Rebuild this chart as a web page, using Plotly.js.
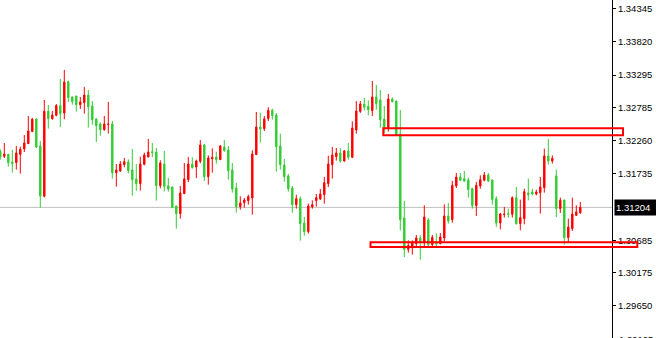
<!DOCTYPE html>
<html>
<head>
<meta charset="utf-8">
<script src="https://cdn.plot.ly/plotly-3.0.1.min.js"></script>
<style>
  html, body { margin: 0; padding: 0; background: #ffffff; }
  #chart { width: 656px; height: 338px; }
</style>
</head>
<body>
<div id="chart"></div>
<script>
// GBP/USD style bar series, oldest to newest
const openP = [
  1.32091, 1.32012, 1.32043, 1.31922, 1.31912, 1.32043, 1.32128, 1.32212, 1.32402, 1.32602,
  1.32175, 1.31379, 1.32723, 1.32607, 1.32660, 1.32813, 1.32697, 1.33192, 1.32950, 1.32965,
  1.32828, 1.32860, 1.32981, 1.32807, 1.32602, 1.32523, 1.32433, 1.32515, 1.32523, 1.31753,
  1.31780, 1.31880, 1.31922, 1.31796, 1.31653, 1.31579, 1.31885, 1.32001, 1.32085, 1.32080,
  1.31548, 1.31890, 1.31543, 1.31527, 1.31226, 1.31105, 1.31421, 1.31643, 1.31885, 1.31843,
  1.31933, 1.32191, 1.31690, 1.31975, 1.32001, 1.31959, 1.32159, 1.32112, 1.31796, 1.31511,
  1.31216, 1.31279, 1.31311, 1.31353, 1.32038, 1.32475, 1.32449, 1.32607, 1.32739, 1.32665,
  1.32175, 1.31875, 1.31701, 1.31511, 1.31247, 1.31342, 1.30958, 1.30821, 1.31211, 1.31311,
  1.31337, 1.31405, 1.31579, 1.31880, 1.32006, 1.32064, 1.31938, 1.32096, 1.31996, 1.32428,
  1.32723, 1.32839, 1.32802, 1.32734, 1.32950, 1.32902, 1.32602, 1.32449, 1.32918, 1.32886,
  1.32365, 1.31037, 1.30541, 1.30568, 1.30631, 1.30720, 1.30645, 1.31005, 1.30615, 1.30645,
  1.30631, 1.30720, 1.31068, 1.31010, 1.31543, 1.31685, 1.31659, 1.31637, 1.31500, 1.31232,
  1.31543, 1.31632, 1.31716, 1.31637, 1.31342, 1.30958, 1.31092, 1.31105, 1.31095, 1.31358,
  1.30947, 1.31026, 1.31432, 1.31448, 1.31416, 1.31437, 1.31516, 1.32017, 1.31938, 1.31701,
  1.31184, 1.31321, 1.30726, 1.30868, 1.31079, 1.31121
];
const highP = [
  1.32122, 1.32222, 1.32050, 1.32112, 1.32175, 1.32164, 1.32349, 1.32649, 1.32618, 1.32607,
  1.32254, 1.32902, 1.32823, 1.32728, 1.32839, 1.33234, 1.33377, 1.33208, 1.32955, 1.32970,
  1.32950, 1.33108, 1.33060, 1.32886, 1.32612, 1.32549, 1.32649, 1.32871, 1.32570, 1.31890,
  1.31938, 1.31985, 1.31964, 1.32128, 1.31890, 1.32006, 1.32070, 1.32286, 1.32222, 1.32143,
  1.31948, 1.32096, 1.31669, 1.31530, 1.31230, 1.31543, 1.31906, 1.32001, 1.31996, 1.31959,
  1.32270, 1.32207, 1.32027, 1.32138, 1.32085, 1.32191, 1.32270, 1.32175, 1.31906, 1.31590,
  1.31379, 1.31353, 1.31405, 1.32107, 1.32712, 1.32702, 1.32649, 1.32788, 1.32765, 1.32697,
  1.32370, 1.31969, 1.31732, 1.31543, 1.31405, 1.31374, 1.31052, 1.31263, 1.31316, 1.31416,
  1.31495, 1.31685, 1.32022, 1.32159, 1.32143, 1.32143, 1.32112, 1.32222, 1.32565, 1.32886,
  1.32886, 1.32934, 1.32897, 1.33203, 1.33139, 1.33060, 1.32807, 1.32997, 1.32944, 1.32891,
  1.32744, 1.31305, 1.30684, 1.30684, 1.30768, 1.30763, 1.31237, 1.31037, 1.30768, 1.30795,
  1.30800, 1.31253, 1.31274, 1.31622, 1.31748, 1.31748, 1.31780, 1.31674, 1.31516, 1.31606,
  1.31711, 1.31764, 1.31748, 1.31640, 1.31379, 1.31116, 1.31211, 1.31184, 1.31379, 1.31527,
  1.31327, 1.31500, 1.31659, 1.31500, 1.31485, 1.31685, 1.32133, 1.32286, 1.32027, 1.31801,
  1.31358, 1.31325, 1.31026, 1.31358, 1.31237, 1.31290
];
const lowP = [
  1.31959, 1.31985, 1.31848, 1.31753, 1.31801, 1.31738, 1.32080, 1.32207, 1.32396, 1.32143,
  1.31200, 1.31363, 1.32449, 1.32591, 1.32644, 1.32475, 1.32597, 1.32871, 1.32828, 1.32718,
  1.32760, 1.32686, 1.32465, 1.32512, 1.32238, 1.32338, 1.32417, 1.32370, 1.31659, 1.31532,
  1.31764, 1.31838, 1.31743, 1.31390, 1.31469, 1.31469, 1.31869, 1.31996, 1.32001, 1.31311,
  1.31506, 1.31458, 1.31453, 1.31195, 1.30868, 1.31026, 1.31416, 1.31606, 1.31817, 1.31669,
  1.31901, 1.31622, 1.31564, 1.31753, 1.31896, 1.31955, 1.32085, 1.31643, 1.31437, 1.31121,
  1.31168, 1.31200, 1.31247, 1.31089, 1.32033, 1.32228, 1.32412, 1.32570, 1.32591, 1.31769,
  1.31801, 1.31611, 1.31453, 1.31121, 1.31184, 1.30678, 1.30757, 1.30789, 1.31184, 1.31216,
  1.31321, 1.31263, 1.31527, 1.31659, 1.31943, 1.31912, 1.31927, 1.31959, 1.31985, 1.32370,
  1.32697, 1.32734, 1.32660, 1.32649, 1.32749, 1.32465, 1.32380, 1.32402, 1.32865, 1.32349,
  1.30840, 1.30420, 1.30489, 1.30457, 1.30594, 1.30378, 1.30589, 1.30589, 1.30589, 1.30589,
  1.30620, 1.30668, 1.30947, 1.30963, 1.31511, 1.31622, 1.31606, 1.31358, 1.31184, 1.31068,
  1.31500, 1.31616, 1.31606, 1.31247, 1.30894, 1.30857, 1.31042, 1.31042, 1.31042, 1.30931,
  1.30842, 1.30937, 1.31316, 1.31395, 1.31395, 1.31105, 1.31437, 1.31880, 1.31896, 1.31052,
  1.31116, 1.30615, 1.30645, 1.30831, 1.31068, 1.31100
];
const closeP = [
  1.32001, 1.32049, 1.31912, 1.31896, 1.32064, 1.32122, 1.32222, 1.32412, 1.32597, 1.32159,
  1.31384, 1.32723, 1.32607, 1.32665, 1.32813, 1.32686, 1.33187, 1.32939, 1.32876, 1.32828,
  1.32871, 1.32981, 1.32797, 1.32591, 1.32496, 1.32433, 1.32523, 1.32520, 1.31753, 1.31796,
  1.31890, 1.31927, 1.31785, 1.31643, 1.31579, 1.31890, 1.32033, 1.32080, 1.32070, 1.31548,
  1.31906, 1.31537, 1.31495, 1.31200, 1.31105, 1.31432, 1.31653, 1.31890, 1.31832, 1.31938,
  1.32191, 1.31690, 1.31985, 1.31996, 1.31959, 1.32175, 1.32101, 1.31785, 1.31495, 1.31216,
  1.31274, 1.31321, 1.31374, 1.32049, 1.32475, 1.32444, 1.32602, 1.32739, 1.32655, 1.32164,
  1.31880, 1.31690, 1.31500, 1.31247, 1.31342, 1.30947, 1.30821, 1.31226, 1.31247, 1.31358,
  1.31416, 1.31595, 1.31890, 1.32033, 1.32064, 1.31938, 1.32096, 1.31996, 1.32460, 1.32728,
  1.32839, 1.32788, 1.32749, 1.32950, 1.32844, 1.32591, 1.32470, 1.32918, 1.32876, 1.32354,
  1.31010, 1.30541, 1.30600, 1.30645, 1.30720, 1.30645, 1.31052, 1.30615, 1.30731, 1.30626,
  1.30736, 1.31068, 1.30989, 1.31553, 1.31685, 1.31632, 1.31622, 1.31485, 1.31232, 1.31553,
  1.31643, 1.31716, 1.31622, 1.31327, 1.30958, 1.31100, 1.31097, 1.31095, 1.31358, 1.30947,
  1.31042, 1.31453, 1.31405, 1.31416, 1.31448, 1.31527, 1.32017, 1.31938, 1.31980, 1.31184,
  1.31316, 1.30726, 1.30894, 1.31100, 1.31132, 1.31205
];

// Price scale labels on the right-hand axis
const tickVals = [1.34345, 1.33820, 1.33295, 1.32785, 1.32260, 1.31735, 1.30685, 1.30175, 1.29650];
const tickText = ["1.34345", "1.33820", "1.33295", "1.32785", "1.32260", "1.31735", "1.30685", "1.30175", "1.29650"];
// lowest scale label sits right on the bottom edge and is only half shown
const edgeTickText = "1.29125";

// Last traded price and the two marked price zones
const lastPrice = 1.31204;
const lastPriceText = "1.31204";
const upperZone = [1.32344, 1.32455];
const lowerZone = [1.30578, 1.30652];

const barIndex = openP.map((_, i) => i);

const W = 656, H = 338;
const axisX = 612 / W;          // paper position of the price axis line
const barStep = 4;              // pixels between neighbouring bars
const labelFont = { family: "Liberation Sans, Arial, sans-serif", size: 9.5, color: "#000000" };

const trace = {
  type: "candlestick",
  x: barIndex,
  open: openP, high: highP, low: lowP, close: closeP,
  increasing: { line: { color: "#ff0000", width: 1 }, fillcolor: "#ff0000" },
  decreasing: { line: { color: "#32cd32", width: 1 }, fillcolor: "#32cd32" },
  whiskerwidth: 0,
  hoverinfo: "skip",
  showlegend: false
};

const layout = {
  width: W, height: H,
  margin: { l: 0, r: 0, t: 0, b: 0, pad: 0 },
  paper_bgcolor: "#ffffff",
  plot_bgcolor: "#ffffff",
  showlegend: false,
  boxgap: 0.5,
  xaxis: {
    domain: [0, 1],
    range: [-0.3 / barStep, (W - 0.3) / barStep],
    visible: false,
    showgrid: false,
    zeroline: false,
    rangeslider: { visible: false },
    fixedrange: true
  },
  yaxis: {
    range: [1.29139, 1.34483],
    side: "right",
    anchor: "free",
    position: axisX,
    showline: true,
    linecolor: "#000000",
    linewidth: 1,
    ticks: "outside",
    ticklen: 3,
    tickwidth: 1,
    tickcolor: "#000000",
    tickvals: tickVals,
    ticktext: tickText,
    tickfont: labelFont,
    showgrid: false,
    zeroline: false,
    fixedrange: true
  },
  shapes: [
    {
      type: "line", layer: "below",
      xref: "paper", yref: "y",
      x0: 0, x1: axisX, y0: lastPrice, y1: lastPrice,
      line: { color: "#c0c0c0", width: 1 }
    },
    {
      type: "rect", layer: "above",
      xref: "paper", yref: "y",
      x0: 383.3 / W, x1: 623 / W, y0: upperZone[0], y1: upperZone[1],
      line: { color: "#ff0000", width: 2 }, fillcolor: "rgba(0,0,0,0)"
    },
    {
      type: "rect", layer: "above",
      xref: "paper", yref: "y",
      x0: 370.5 / W, x1: 637.3 / W, y0: lowerZone[0], y1: lowerZone[1],
      line: { color: "#ff0000", width: 2 }, fillcolor: "rgba(0,0,0,0)"
    }
  ],
  annotations: [
    {
      xref: "paper", yref: "y",
      x: 614 / W, y: lastPrice,
      xanchor: "left", yanchor: "middle",
      text: lastPriceText,
      showarrow: false,
      bgcolor: "#000000",
      borderpad: 1,
      width: 39, height: 13,
      align: "left",
      font: { family: labelFont.family, size: 9.5, color: "#ffffff" }
    },
    {
      xref: "paper", yref: "paper",
      x: 617.5 / W, y: 0,
      xanchor: "left", yanchor: "middle",
      yshift: -1,
      text: edgeTickText,
      showarrow: false,
      borderpad: 0,
      font: labelFont
    }
  ]
};

Plotly.newPlot("chart", [trace], layout, { staticPlot: true, displayModeBar: false });
</script>
</body>
</html>
